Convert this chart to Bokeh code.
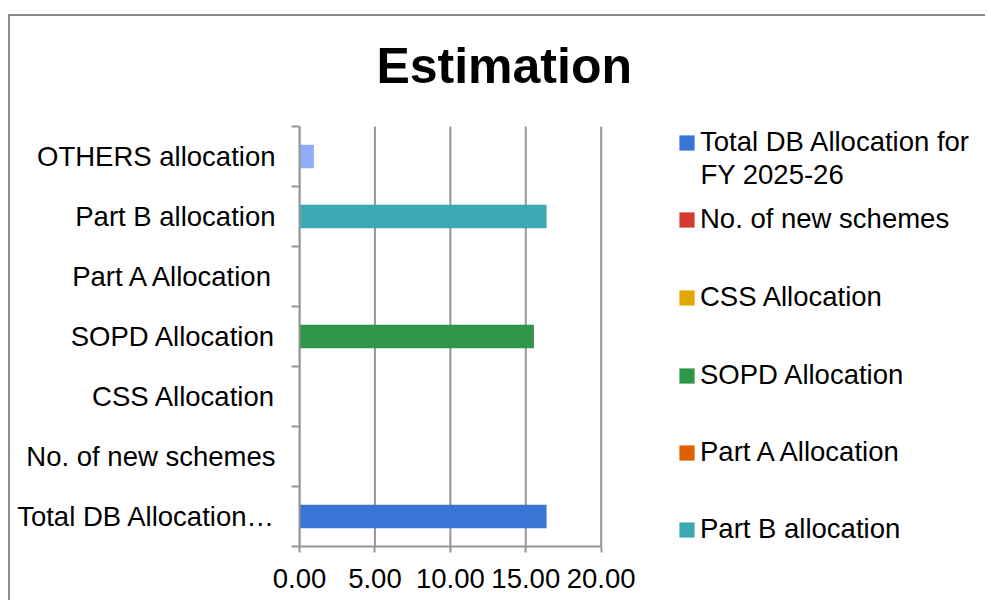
from bokeh.plotting import figure
from bokeh.models import (ColumnDataSource, Range1d, FixedTicker, NumeralTickFormatter,
                          Legend, LegendItem, Label)
from bokeh.embed import file_html
from bokeh.resources import INLINE

# ---- data ----
categories = ["Total DB Allocation for FY 2025-26", "No. of new schemes", "CSS Allocation",
              "SOPD Allocation", "Part A Allocation", "Part B allocation", "OTHERS allocation"]
tick_labels = ["Total DB Allocation\u2026", "No. of new schemes", "CSS Allocation",
               "SOPD Allocation", "Part A Allocation", "Part B allocation", "OTHERS allocation"]
values = [16.38, 0.0, 0.0, 15.54, 0.0, 16.38, 0.95]
colors = ["#3a75d6", "#d33b30", "#e0a800", "#2f954b", "#e06000", "#3ca8b1", "#91acf7"]
legend_labels = ["Total DB Allocation for", "No. of new schemes", "CSS Allocation",
                 "SOPD Allocation", "Part A Allocation", "Part B allocation"]
legend_label_line2 = "FY 2025-26"
x_ticks = [0, 5, 10, 15, 20]

FONT = "Liberation Sans"
FS = "27.5px"
GRID = "#959595"

n = len(categories)
ypos = [i + 0.5 for i in range(n)]
src = ColumnDataSource(dict(y=ypos, v=values, c=colors, cat=categories))

PX_X = 15.085   # pixels per x unit
PX_Y = 60.0     # pixels per category band
W, H = 977, 586
LEFT, BOTTOM = 289, 56
x_end = (W - LEFT) / PX_X
y_end = (H - BOTTOM) / PX_Y

p = figure(width=W, height=H, output_backend="svg", toolbar_location=None,
           x_range=Range1d(0, x_end), y_range=Range1d(0, y_end),
           min_border=0, min_border_left=LEFT, min_border_right=0, min_border_top=0,
           min_border_bottom=BOTTOM)
p.styles = {"border-left": "2px solid #8c8c8c", "border-top": "2px solid #8c8c8c",
            "margin-top": "14px", "margin-left": "8px"}
p.outline_line_color = None
p.background_fill_color = "white"
p.border_fill_color = "white"
p.xgrid.visible = False
p.ygrid.visible = False

# vertical grid lines at the x ticks, spanning the category area only
p.segment(x0=x_ticks, x1=x_ticks, y0=[0] * len(x_ticks), y1=[n] * len(x_ticks),
          line_color=GRID, line_width=2)

r = p.hbar(y="y", right="v", left=0, height=0.39, fill_color="c", line_color=None, source=src)

# x axis
p.xaxis.ticker = FixedTicker(ticks=x_ticks)
p.xaxis.bounds = (x_ticks[0], x_ticks[-1])
p.xaxis.formatter = NumeralTickFormatter(format="0.00")
p.xaxis.axis_line_color = GRID
p.xaxis.axis_line_width = 2
p.xaxis.major_tick_line_color = GRID
p.xaxis.major_tick_line_width = 2
p.xaxis.major_tick_out = 6
p.xaxis.major_tick_in = 0
p.xaxis.minor_tick_line_color = None
p.xaxis.major_label_text_font = FONT
p.xaxis.major_label_text_font_size = FS
p.xaxis.major_label_text_color = "black"
p.xaxis.major_label_standoff = 16

# y axis
p.yaxis.ticker = FixedTicker(ticks=ypos, minor_ticks=list(range(n + 1)))
p.yaxis.bounds = (0, n)
p.yaxis.major_label_overrides = {y: t for y, t in zip(ypos, tick_labels)}
p.yaxis.axis_line_color = GRID
p.yaxis.axis_line_width = 2
p.yaxis.major_tick_line_color = None
p.yaxis.major_tick_out = 0
p.yaxis.major_tick_in = 0
p.yaxis.minor_tick_line_color = GRID
p.yaxis.minor_tick_line_width = 2
p.yaxis.minor_tick_out = 8
p.yaxis.minor_tick_in = 0
p.yaxis.major_label_text_font = FONT
p.yaxis.major_label_text_font_size = FS
p.yaxis.major_label_text_color = "black"
p.yaxis.major_label_standoff = 16

# title
p.add_layout(Label(x=13.57, y=n + (126 - 65) / PX_Y, text="Estimation", text_font=FONT,
                   text_font_size="50px", text_font_style="bold", text_color="black",
                   text_align="center", text_baseline="middle"))

# legend (one per entry, placed like the reference)
leg_bottoms = [388, 311, 233, 155, 78, 1]
for i, (lab, yb) in enumerate(zip(legend_labels, leg_bottoms)):
    leg = Legend(items=[LegendItem(label=lab, renderers=[r], index=i)], location=(378, yb),
                 border_line_color=None, background_fill_alpha=0, padding=0, margin=0,
                 glyph_width=19, glyph_height=19, label_standoff=4, label_height=31,
                 label_text_font=FONT, label_text_font_size=FS, label_text_color="black")
    p.add_layout(leg, "center")

# second line of the first legend entry
p.add_layout(Label(x=(700 - 299) / PX_X, y=(546 - 174) / PX_Y, text=legend_label_line2,
                   text_font=FONT, text_font_size=FS, text_color="black",
                   text_align="left", text_baseline="middle"))

open("out.html", "w").write(file_html(p, INLINE))
